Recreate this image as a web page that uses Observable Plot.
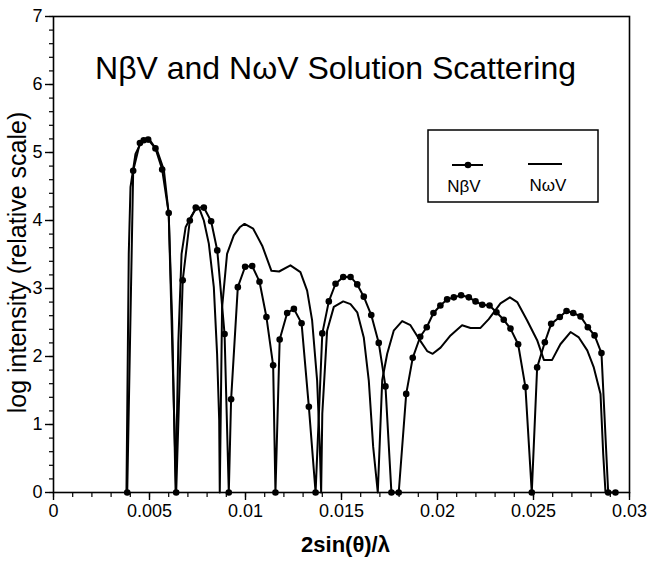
<!DOCTYPE html>
<html>
<head>
<meta charset="utf-8">
<script src="https://cdn.jsdelivr.net/npm/d3@7"></script>
<script src="https://cdn.jsdelivr.net/npm/@observablehq/plot@0.6"></script>
<style>
  html, body { margin: 0; padding: 0; background: #fff; }
  #wrap { position: relative; width: 648px; height: 563px; }
  #legend { position: absolute; left: 0; top: 0; pointer-events: none; }
</style>
</head>
<body>
<div id="wrap"></div>
<script>
// ---- data ----
const titleText = "NβV and NωV Solution Scattering";
const xLabel = "2sin(θ)/λ";
const yLabel = "log intensity (relative scale)";
const seriesNames = ["NβV", "NωV"];

const xTicks = [0, 0.005, 0.01, 0.015, 0.02, 0.025, 0.03];
const xTickLabels = ["0", "0.005", "0.01", "0.015", "0.02", "0.025", "0.03"];
const xMinorTicks = d3.range(0, 31).map(i => i / 1000);
const yTicks = [0, 1, 2, 3, 4, 5, 6, 7];
const yTickLabels = ["0", "1", "2", "3", "4", "5", "6", "7"];
const yMinorTicks = d3.range(0, 36).map(i => i / 5);

// NβV (line with dots)
const nbvX = [0.00384, 0.00415, 0.0045, 0.0047, 0.00493, 0.00531, 0.00566, 0.0060, 0.00639,
  0.00673, 0.0071, 0.00741, 0.00783, 0.00821, 0.00853, 0.00891, 0.00913,
  0.00925, 0.0096, 0.00998, 0.01035, 0.01073, 0.01109, 0.01144, 0.01156,
  0.01178, 0.01217, 0.01252, 0.01292, 0.0133, 0.01365,
  0.014, 0.01434, 0.01469, 0.01509, 0.01547, 0.01582, 0.01616, 0.01655, 0.01694, 0.01729, 0.0176,
  0.01798, 0.01837, 0.01871, 0.0191, 0.01944, 0.01979, 0.02015, 0.0205, 0.02085, 0.02123, 0.02163,
  0.02198, 0.02233, 0.02271, 0.02307, 0.02345, 0.0238, 0.0242, 0.02458, 0.02491,
  0.02519, 0.02559, 0.02592, 0.02637, 0.02672, 0.02707, 0.02745, 0.02783, 0.02818, 0.02854, 0.02889, 0.02927];
const nbvY = [0, 4.73, 5.14, 5.18, 5.19, 5.06, 4.75, 4.11, 0,
  3.12, 4.0, 4.19, 4.19, 3.99, 3.56, 2.33, 0,
  1.37, 3.02, 3.32, 3.33, 3.10, 2.58, 1.87, 0,
  2.25, 2.64, 2.70, 2.49, 1.26, 0,
  2.34, 2.81, 3.07, 3.17, 3.17, 3.06, 2.88, 2.61, 2.20, 1.56, 0,
  0, 1.45, 1.98, 2.29, 2.43, 2.64, 2.75, 2.84, 2.87, 2.90, 2.87,
  2.81, 2.76, 2.75, 2.65, 2.54, 2.41, 2.18, 1.55, 0,
  1.84, 2.21, 2.48, 2.58, 2.67, 2.64, 2.59, 2.43, 2.31, 2.05, 0, 0];

// NωV (plain line)
const nwvX = [0.0038, 0.00392, 0.00401, 0.00427, 0.00462, 0.00497, 0.0054, 0.00575, 0.0060, 0.00618, 0.00632, 0.00636,
  0.0065, 0.00667, 0.00688, 0.00719, 0.0074, 0.0076, 0.00783, 0.00809, 0.00835, 0.00852, 0.00863, 0.00866,
  0.00878, 0.00904, 0.00939, 0.0097, 0.00995, 0.0104, 0.01087, 0.01135, 0.01175, 0.01234, 0.01286, 0.01321, 0.01347, 0.01373, 0.01387, 0.01394,
  0.014, 0.01425, 0.0146, 0.01509, 0.01547, 0.01582, 0.01616, 0.01642, 0.01665, 0.01689,
  0.01712, 0.01738, 0.01772, 0.01816, 0.01859, 0.01908, 0.01946, 0.01975, 0.02016, 0.02068, 0.02128, 0.02172, 0.02224,
  0.02267, 0.02328, 0.02377, 0.02415, 0.02467, 0.02519, 0.02554, 0.02597, 0.0264, 0.02693, 0.02736, 0.0278, 0.02814, 0.02849, 0.02863, 0.02875];
const nwvY = [0, 3.51, 4.49, 4.98, 5.18, 5.20, 5.03, 4.74, 4.10, 2.53, 0.57, 0,
  2.2, 3.51, 3.9, 4.07, 4.16, 4.17, 4.0, 3.66, 3.02, 2.04, 1.06, 0,
  2.72, 3.51, 3.78, 3.90, 3.95, 3.88, 3.63, 3.26, 3.25, 3.34, 3.24, 2.97, 2.53, 1.65, 0.67, 0,
  1.16, 2.38, 2.73, 2.81, 2.77, 2.65, 2.28, 1.65, 0.67, 0,
  1.65, 2.04, 2.38, 2.52, 2.46, 2.24, 2.08, 2.04, 2.13, 2.31, 2.46, 2.42, 2.42,
  2.55, 2.78, 2.87, 2.80, 2.53, 2.24, 1.95, 1.95, 2.18, 2.36, 2.28, 2.09, 1.84, 1.45, 0.57, 0];

const nbv = nbvX.map((x, i) => ({x, y: nbvY[i]}));
const nwv = nwvX.map((x, i) => ({x, y: nwvY[i]}));

const font = "'Liberation Sans', Arial, Helvetica, sans-serif";

const chart = Plot.plot({
  width: 648,
  height: 563,
  marginLeft: 53,
  marginRight: 19,
  marginTop: 16,
  marginBottom: 71,
  style: {fontFamily: font, background: "#fff", color: "#000", overflow: "visible"},
  x: {domain: [0, 0.03]},
  y: {domain: [0, 7]},
  marks: [
    Plot.frame({stroke: "#000", strokeWidth: 1.6}),
    Plot.axisX({ticks: xMinorTicks, tickSize: 5, tickFormat: () => "", label: null, strokeWidth: 1.2}),
    Plot.axisX({ticks: xTicks, tickSize: 8, tickPadding: 4, tickFormat: (d, i) => xTickLabels[i], fontSize: 18, label: null, strokeWidth: 1.4}),
    Plot.axisY({ticks: yMinorTicks, tickSize: 4, tickFormat: () => "", label: null, strokeWidth: 1.2}),
    Plot.axisY({ticks: yTicks, tickSize: 8, tickPadding: 3, tickFormat: (d, i) => yTickLabels[i], fontSize: 18, label: null, strokeWidth: 1.4}),
    Plot.line(nwv, {x: "x", y: "y", stroke: "#000", strokeWidth: 2}),
    Plot.line(nbv, {x: "x", y: "y", stroke: "#000", strokeWidth: 2}),
    Plot.dot(nbv, {x: "x", y: "y", r: 3.3, fill: "#000", stroke: "none"}),
    Plot.text([titleText], {frameAnchor: "top", dx: -6, dy: 40, fontSize: 32, fill: "#000"}),
    Plot.text([xLabel], {frameAnchor: "bottom", dx: 4, dy: 59, fontSize: 22, fontWeight: "bold", fill: "#000"}),
    Plot.text([yLabel], {frameAnchor: "left", textAnchor: "middle", rotate: -90, dx: -36, dy: 8, fontSize: 25, fill: "#000"})
  ]
});

const wrap = document.getElementById("wrap");
wrap.appendChild(chart);

// ---- legend (box inside the plot, top right) ----
const leg = d3.select(wrap).append("svg")
  .attr("id", "legend").attr("width", 648).attr("height", 563)
  .style("font-family", font);
const lx = 428, ly = 130;
leg.append("rect").attr("x", lx).attr("y", ly).attr("width", 170).attr("height", 72)
  .attr("fill", "#fff").attr("stroke", "#000").attr("stroke-width", 1.5);
// NβV sample
leg.append("line").attr("x1", lx + 24).attr("x2", lx + 55).attr("y1", ly + 35).attr("y2", ly + 35)
  .attr("stroke", "#000").attr("stroke-width", 2);
leg.append("circle").attr("cx", lx + 40).attr("cy", ly + 35).attr("r", 3.3).attr("fill", "#000");
leg.append("text").attr("x", lx + 36).attr("y", ly + 62).attr("text-anchor", "middle")
  .attr("font-size", 17).text(seriesNames[0]);
// NωV sample
leg.append("line").attr("x1", lx + 100).attr("x2", lx + 134).attr("y1", ly + 34).attr("y2", ly + 34)
  .attr("stroke", "#000").attr("stroke-width", 2);
leg.append("text").attr("x", lx + 120).attr("y", ly + 61).attr("text-anchor", "middle")
  .attr("font-size", 17).text(seriesNames[1]);
</script>
</body>
</html>
